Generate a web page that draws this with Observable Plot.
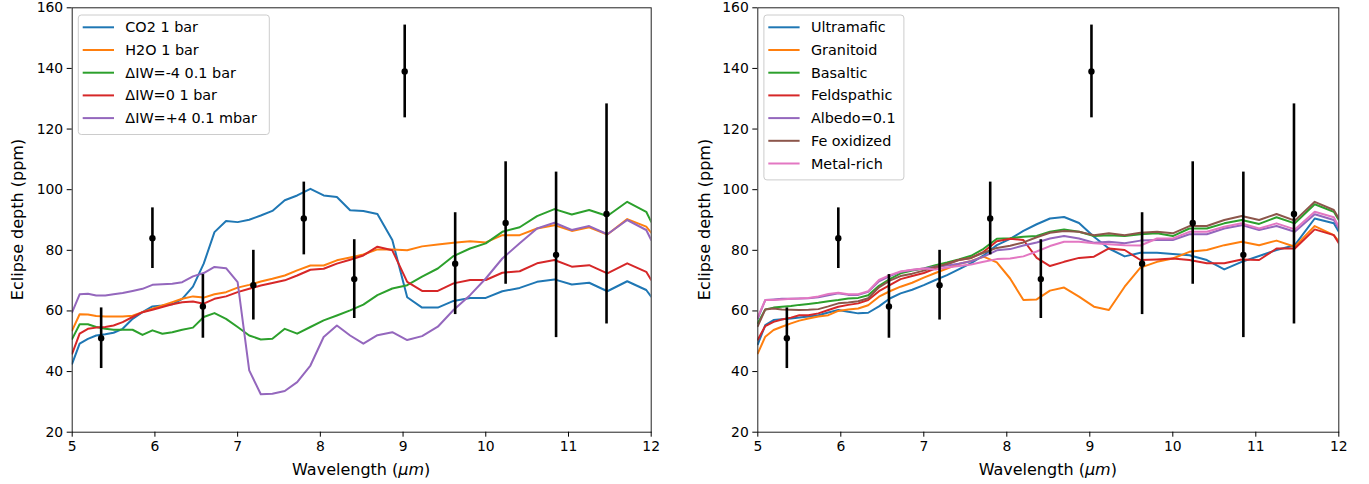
<!DOCTYPE html>
<html><head><meta charset="utf-8">
<script src="https://cdn.jsdelivr.net/npm/d3@7"></script>
<script src="https://cdn.jsdelivr.net/npm/@observablehq/plot@0.6"></script>
<style>
body{margin:0;background:#fff;font-family:"DejaVu Sans",sans-serif;}
#wrap{display:flex;width:1369px;height:484px;overflow:hidden;}
#wrap svg{display:block;flex:none;}
</style></head><body><div id="wrap"></div>
<script>
// Wavelength grid (µm)
const wavelength = [5.0,5.09,5.19,5.29,5.4,5.5,5.61,5.73,5.85,5.97,6.09,6.21,6.33,6.46,6.59,6.72,6.86,7.0,7.14,7.28,7.42,7.57,7.72,7.88,8.04,8.2,8.36,8.52,8.69,8.87,9.05,9.23,9.42,9.61,9.81,10.0,10.2,10.41,10.62,10.83,11.04,11.25,11.47,11.71,11.94,12.0];

// Left panel: atmospheres
const atmNames = ["CO2 1 bar","H2O 1 bar","ΔIW=-4 0.1 bar","ΔIW=0 1 bar","ΔIW=+4 0.1 mbar"];
const co2 = [42.6,49.2,50.8,51.9,52.3,52.8,54.1,57.4,59.6,61.5,61.8,62.2,64,68,75.6,86,89.7,89.3,90.1,91.5,93,96.5,98.1,100.3,98.1,97.6,93.2,93,92,83.4,64.5,61.1,61.1,63.3,64.3,64.3,66.5,67.6,69.6,70.4,68.7,69.3,66.5,69.8,66.9,64.7];
const h2o = [53.6,58.9,58.8,58.3,58.2,58.2,58.2,58.4,59.6,60.7,61.8,62.9,64,64.8,64.4,65.5,66.2,67.7,68.6,69.7,70.6,71.7,73.4,75,75,76.7,77.6,78.6,80.3,80.3,80,81.3,81.9,82.5,83,82.6,85,85,87.2,88.3,86.4,87.6,85.2,90.3,87.8,85.8];
const iwMinus4 = [50.8,55.6,55.6,54.7,54.1,53.8,53.8,53.8,52.1,53.6,52.5,53,53.8,54.5,58,59.3,57.4,54.7,51.9,50.6,50.8,54.1,52.5,54.7,56.9,58.5,60.2,62.1,65.2,67.4,68.5,71.3,74,78.1,80.6,82.3,86.1,87.6,91.3,93.6,91.8,93.3,91.3,96,92.7,89.4];
const iw0 = [45.9,52.5,54.1,54.5,54.7,55.2,56.3,58,59.6,60.4,61.3,62.2,62.9,63.1,62.4,64,64.8,66.2,67.3,68.4,69.2,70.1,71.7,73.6,73.9,75.6,76.9,78.3,81.2,80,69.6,66.6,66.6,69.1,70.2,70.2,72.6,73.1,75.7,76.8,74.6,75.1,72.4,75.7,72.9,70.2];
const iwPlus4 = [59.6,65.5,65.7,65.1,65.1,65.5,65.9,66.6,67.3,68.6,68.8,69,69.5,71.4,72.5,74.5,74.1,69.5,40.4,32.5,32.7,33.6,36.5,42,51.4,55.2,51.9,49.2,52,53,50.4,51.7,54.8,60.3,65.2,70.7,77.3,82.3,87.2,89.1,86.7,88,85.3,90,86.7,83.4];

// Right panel: surfaces
const surfNames = ["Ultramafic","Granitoid","Basaltic","Feldspathic","Albedo=0.1","Fe oxidized","Metal-rich"];
const ultramafic = [49,55.3,57,57.3,57.5,57.8,58.2,58.6,59.5,60.3,59.7,59.2,59.4,61.5,64.1,65.8,67,68.5,70.2,71.8,73.7,75.8,78.3,81.7,83.8,86.4,88.6,90.5,91,89,84.5,80.6,78,79.2,79.2,78.8,78.4,76.8,73.7,76.2,78.1,80.1,81.7,90.5,88.9,86.1];
const granitoid = [46,51.5,53.7,54.8,55.9,56.8,57.5,58.2,58.6,60,60.5,60.8,61.9,64.7,66.5,68,69.3,71,72.5,74,75.5,76.5,77.9,76,70.7,63.6,63.8,66.7,67.7,64.7,61.4,60.3,68,74.3,76.2,77.3,79.5,80.1,81.7,82.8,81.7,83.2,81.2,88,85,83];
const basaltic = [56,60.5,61.1,61.4,61.6,62,62.3,62.7,63.2,63.6,64.1,64.3,65.2,68.3,70.5,72.4,73.3,74,75.1,76,77,78.2,80.5,83.8,84,84.5,84.7,86.1,86.9,86.1,84.7,85,84.7,85.3,85.6,84.7,87.2,87.2,88.9,90,88.7,90.9,88.9,95.2,92.7,90];
const feldspathic = [50.5,55,56.4,57.2,57.8,58.6,58.6,59.2,60.3,61.4,62,62.5,63.6,66.5,68.5,70.5,71.5,72.5,74,75.5,76.8,77.5,79.5,83,83.8,83.4,77.5,74.8,76.2,77.5,77.9,80.6,80.1,76.8,77,77.3,76.8,75.7,75.7,77,76.8,80.6,80.6,86.9,85,82.3];
const albedo01 = [57.5,63.6,63.8,64,64,64.1,64.2,64.5,65.2,65.8,65.3,65.3,66.3,69.8,71.5,72.9,73.5,74,74.6,75,75.6,76.4,77.9,80,80.4,81.6,82.6,83.9,84.7,83.9,82.5,82.8,82.3,83.2,83.4,83.4,85.3,85.3,87.2,88.3,86.7,88,86.1,91.9,90,87.2];
const feOxidized = [55,60.5,60.8,60.5,60.4,60.3,60.4,60.6,61.5,62.5,62.8,63.2,64.2,67.8,70,71.5,72.3,73.3,74.6,75.5,76.8,77.5,79.2,80.8,81.5,82.6,84.3,85.8,86.4,86.1,85,85.6,85,85.8,86.1,85.6,88,88,90,91.3,90,92,89.8,96,93.3,90.5];
const metalRich = [58,63.6,63.6,63.8,64,64.1,64.3,64.8,65.6,66,65.5,65.5,66.5,70.2,71.8,73,73.6,74,73.7,74.3,74.8,75.3,76.2,77.1,77.3,78,79.6,81.4,82.8,82.8,82.3,82,81.7,81.6,83.9,83.9,86.1,86.1,87.8,88.9,87.2,88.9,86.9,92.7,90.9,87.8];

// Observations
const obsWavelength = [5.35,5.97,6.58,7.19,7.80,8.41,9.02,9.63,10.24,10.85,11.46];
const obsDepth = [51,84,61.5,68.5,90.5,70.5,139,75.6,89,78.5,92];
const obsErr = [10,10,10.5,11.5,12,13,15.3,16.8,20.2,27.3,36.3];

const xTicks = [5,6,7,8,9,10,11,12];
const yTicks = [20,40,60,80,100,120,140,160];
const tab10 = ["#1f77b4","#ff7f0e","#2ca02c","#d62728","#9467bd","#8c564b","#e377c2"];

const H = 484, MT = 7.3, MB = 52.3;

function makePanel(names, arrays, width, ml, mr, yLabelX, legendW) {
  const rows = [];
  names.forEach((n, k) => arrays[k].forEach((v, i) => rows.push({w: wavelength[i], v, s: n})));
  const obs = obsWavelength.map((w, i) => ({w, d: obsDepth[i], lo: obsDepth[i] - obsErr[i], hi: obsDepth[i] + obsErr[i]}));
  const colors = tab10.slice(0, names.length);
  const svg = Plot.plot({
    width, height: H, marginLeft: ml, marginRight: mr, marginTop: MT, marginBottom: MB,
    style: {fontFamily: "DejaVu Sans", fontSize: "13.9px", color: "black", background: "white"},
    x: {domain: [5, 12]},
    y: {domain: [20, 160]},
    color: {domain: names, range: colors},
    marks: [
      Plot.line(rows, {x: "w", y: "v", z: "s", stroke: "s", strokeWidth: 2, clip: true}),
      Plot.ruleX(obs, {x: "w", y1: "lo", y2: "hi", stroke: "black", strokeWidth: 2.6}),
      Plot.dot(obs, {x: "w", y: "d", r: 3.2, fill: "black"}),
      Plot.frame({stroke: "#222", strokeWidth: 1}),
      Plot.axisX({ticks: xTicks, tickFormat: d => String(d), tickSize: 5, tickPadding: 4, label: null, fontSize: 13.9}),
      Plot.axisY({ticks: yTicks, tickFormat: d => String(d), tickSize: 5, tickPadding: 4, label: null, fontSize: 13.9})
    ]
  });
  const s = d3.select(svg);
  const cx = (ml + width - mr) / 2;
  const xl = s.append("text").attr("x", cx).attr("y", 475).attr("text-anchor", "middle")
    .style("font-size", "16px").attr("fill", "black");
  xl.append("tspan").text("Wavelength (");
  xl.append("tspan").attr("font-style", "italic").text("μm");
  xl.append("tspan").text(")");
  s.append("text").attr("transform", `translate(${yLabelX},${(MT + H - MB) / 2}) rotate(-90)`)
    .attr("text-anchor", "middle").attr("dy", "0.35em").style("font-size", "16px")
    .attr("fill", "black").text("Eclipse depth (ppm)");
  // legend
  const bx = ml + 6.6, by = 15, rowH = 22.7;
  const g = s.append("g").attr("text-anchor", "start");
  g.append("rect").attr("x", bx).attr("y", by).attr("width", legendW)
    .attr("height", names.length * rowH + 6).attr("rx", 3)
    .attr("fill", "white").attr("fill-opacity", 0.8).attr("stroke", "#cccccc").attr("stroke-width", 1);
  names.forEach((n, k) => {
    const yy = by + 12.3 + k * rowH;
    g.append("line").attr("x1", bx + 4.4).attr("x2", bx + 35.7).attr("y1", yy).attr("y2", yy)
      .attr("stroke", colors[k]).attr("stroke-width", 2);
    g.append("text").attr("x", bx + 47).attr("y", yy).attr("dy", "0.35em")
      .attr("text-anchor", "start")
      .style("font-size", "14.4px").attr("fill", "black").text(n);
  });
  return svg;
}

const wrap = document.getElementById("wrap");
wrap.appendChild(makePanel(atmNames, [co2, h2o, iwMinus4, iw0, iwPlus4], 684, 71.7, 33.3, 17, 191));
wrap.appendChild(makePanel(surfNames, [ultramafic, granitoid, basaltic, feldspathic, albedo01, feOxidized, metalRich], 685, 73.3, 30.7, 20.5, 140));
</script></body></html>
